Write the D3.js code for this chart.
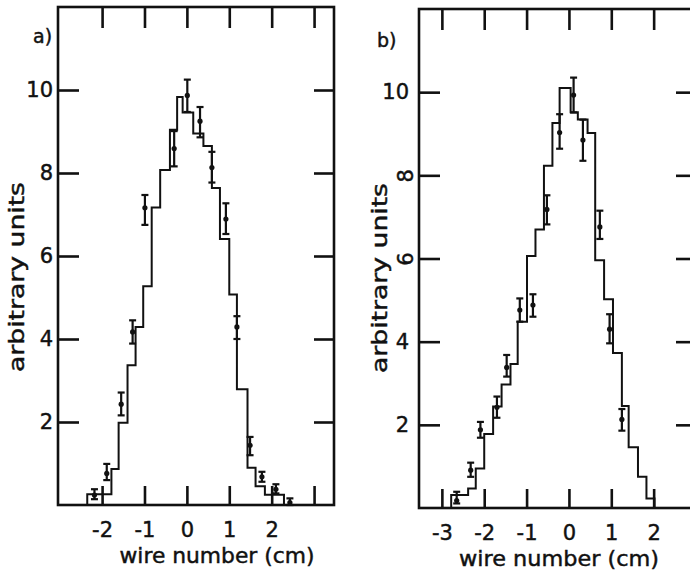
<!DOCTYPE html>
<html><head><meta charset="utf-8">
<script src="https://cdn.jsdelivr.net/npm/d3@7"></script>
<style>
body{margin:0;background:#fff;}
svg{display:block;}
text{font-family:"DejaVu Sans",sans-serif;fill:#111;stroke:#111;stroke-width:0.45px;}
</style></head>
<body>
<svg id="c" width="690" height="575"></svg>
<script>
// ---------- Panel a data ----------
const aEdges = [-2.35,-1.78,-1.61,-1.40,-1.21,-1.03,-0.83,-0.63,-0.40,-0.23,-0.10,0.15,0.39,0.59,0.78,1.00,1.18,1.43,1.62,1.84,2.29];
const aHeights = [0.26,0.87,1.98,3.37,4.29,5.27,7.17,8.07,9.04,9.83,9.46,8.95,8.65,7.64,6.41,5.07,2.79,0.90,0.45,0.25];
const aPtX = [-2.18,-1.89,-1.55,-1.28,-0.99,-0.30,0.01,0.31,0.59,0.92,1.18,1.49,1.77,2.10,2.43];
const aPtY = [0.24,0.76,2.43,4.17,7.16,8.59,9.87,9.25,8.13,6.89,4.29,1.44,0.68,0.38,0.06];
const aLo  = [0.14,0.60,2.16,3.89,6.75,8.16,9.47,8.86,7.77,6.53,4.00,1.20,0.56,0.28,0.00];
const aHi  = [0.38,0.99,2.71,4.45,7.47,9.01,10.25,9.59,8.51,7.27,4.55,1.64,0.80,0.50,0.16];
const aXTicks = [-2,-1,0,1,2,3];
const aXLabels = [-2,-1,0,1,2];

// ---------- Panel b data ----------
const bEdges = [-2.78,-2.38,-2.20,-2.00,-1.79,-1.59,-1.38,-1.21,-0.99,-0.79,-0.59,-0.39,-0.22,0.04,0.21,0.44,0.62,0.83,1.04,1.25,1.41,1.63,1.83,2.02];
const bHeights = [0.31,0.47,0.95,1.78,2.44,2.97,3.46,4.48,6.06,6.70,8.23,9.26,10.10,9.52,9.34,9.02,5.96,5.02,3.73,2.45,1.46,0.75,0.23];
const bPtX = [-2.65,-2.32,-2.09,-1.70,-1.47,-1.16,-0.85,-0.52,-0.22,0.11,0.33,0.73,0.96,1.25];
const bPtY = [0.18,0.91,1.88,2.42,3.38,4.76,4.88,7.18,9.03,9.93,8.85,6.76,4.30,2.13];
const bLo  = [0.11,0.75,1.69,2.17,3.16,4.48,4.60,6.82,8.64,9.51,8.35,6.47,3.96,1.86];
const bHi  = [0.39,1.09,2.07,2.68,3.68,5.04,5.14,7.52,9.47,10.35,9.34,7.15,4.66,2.38];
const bXTicks = [-3,-2,-1,0,1,2];
const bXLabels = [-3,-2,-1,0,1,2];

const yTicks = [2,4,6,8,10];
const xTitle = "wire number (cm)";
const yTitle = "arbitrary units";

const svg = d3.select("#c");
const fmt = d => d < 0 ? "-" + Math.abs(d) : String(d);

function panel(cfg){
  const x = d3.scaleLinear().domain(cfg.xdom).range([cfg.left, cfg.right]);
  const y = d3.scaleLinear().domain([0,12]).range([cfg.bottom, cfg.top]);
  const g = svg.append("g");

  const styleAxis = sel => {
    sel.select(".domain").remove();
    sel.selectAll(".tick line").attr("stroke","#111").attr("stroke-width",2.6);
    sel.selectAll(".tick text").style("font-family","'DejaVu Sans',sans-serif").style("font-size","21px")
      .attr("fill","#111").attr("stroke","#111").attr("stroke-width",0.45);
  };
  const bx = g.append("g").attr("transform",`translate(0,${cfg.bottom})`)
    .call(d3.axisBottom(x).tickValues(cfg.xticks).tickSizeInner(-19).tickSizeOuter(0).tickPadding(17)
      .tickFormat(d => cfg.xlabels.includes(d) ? fmt(d) : ""));
  styleAxis(bx);
  const tx = g.append("g").attr("transform",`translate(0,${cfg.top})`)
    .call(d3.axisTop(x).tickValues(cfg.xticks).tickSizeInner(-21).tickSizeOuter(0).tickFormat(""));
  styleAxis(tx);
  const ly = g.append("g").attr("transform",`translate(${cfg.left},0)`)
    .call(d3.axisLeft(y).tickValues(yTicks).tickSizeInner(-21).tickSizeOuter(0).tickPadding(cfg.ypad).tickFormat(fmt));
  styleAxis(ly);
  const ry = g.append("g").attr("transform",`translate(${cfg.right},0)`)
    .call(d3.axisRight(y).tickValues(yTicks).tickSizeInner(-20).tickSizeOuter(0).tickFormat(""));
  styleAxis(ry);
  if (cfg.rotLabels) {
    ly.selectAll(".tick").filter(d => cfg.rotLabels.includes(d)).select("text")
      .attr("x",0).attr("dy","0.36em").attr("text-anchor","middle")
      .attr("transform",`translate(${-cfg.ypad-4},0) rotate(-90)`);
  }

  g.append("rect").attr("x",cfg.left).attr("y",cfg.top)
    .attr("width",cfg.right-cfg.left).attr("height",cfg.bottom-cfg.top)
    .attr("fill","none").attr("stroke","#111").attr("stroke-width",2.6);

  const pts = [{x:cfg.edges[0],y:0}];
  cfg.heights.forEach((h,i)=>pts.push({x:cfg.edges[i],y:h}));
  pts.push({x:cfg.edges[cfg.edges.length-1],y:0});
  const line = d3.line().x(d=>x(d.x)).y(d=>y(d.y)).curve(d3.curveStepAfter);
  g.append("path").attr("d",line(pts)).attr("fill","none").attr("stroke","#111").attr("stroke-width",2);

  const eb = g.append("g");
  cfg.px.forEach((v,i)=>{
    const cx = x(v);
    eb.append("line").attr("x1",cx).attr("x2",cx).attr("y1",y(cfg.lo[i])).attr("y2",y(cfg.hi[i]))
      .attr("stroke","#111").attr("stroke-width",2.2);
    [cfg.lo[i],cfg.hi[i]].forEach(e=>{
      eb.append("line").attr("x1",cx-3.5).attr("x2",cx+3.5).attr("y1",y(e)).attr("y2",y(e))
        .attr("stroke","#111").attr("stroke-width",2.2);
    });
    eb.append("circle").attr("cx",cx).attr("cy",y(cfg.py[i])).attr("r",2.6).attr("fill","#111");
  });

  g.append("text").attr("x",cfg.labX).attr("y",cfg.labY).style("font-size","19px").text(cfg.label);
  g.append("text").attr("x",cfg.xtX).attr("y",cfg.xtY).attr("text-anchor","middle")
    .attr("textLength",cfg.xtLen).attr("lengthAdjust","spacingAndGlyphs")
    .style("font-size","21px").text(xTitle);
  g.append("text").attr("transform",`translate(${cfg.ytX},${cfg.ytY}) rotate(-90)`).attr("text-anchor","middle")
    .attr("textLength",190).attr("lengthAdjust","spacingAndGlyphs")
    .style("font-size","21px").text(yTitle);
}

panel({xdom:[-3.04,3.47], left:58, right:334, top:7, bottom:505,
  edges:aEdges, heights:aHeights, px:aPtX, py:aPtY, lo:aLo, hi:aHi,
  xticks:aXTicks, xlabels:aXLabels, ypad:5,
  label:"a)", labX:33, labY:43, xtX:217, xtY:563, xtLen:195, ytX:24, ytY:277});

panel({xdom:[-3.54,3.0], left:419, right:696, top:9, bottom:508,
  edges:bEdges, heights:bHeights, px:bPtX, py:bPtY, lo:bLo, hi:bHi,
  xticks:bXTicks, xlabels:bXLabels, ypad:10, rotLabels:[6,8],
  label:"b)", labX:377, labY:47, xtX:559, xtY:566, xtLen:200, ytX:387, ytY:278});
</script>
</body></html>
